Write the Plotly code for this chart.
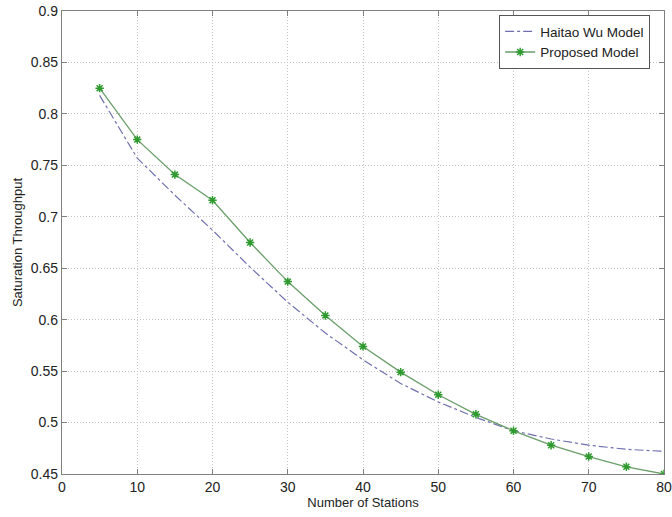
import plotly.graph_objects as go

stations = [5, 10, 15, 20, 25, 30, 35, 40, 45, 50, 55, 60, 65, 70, 75, 80]
haitao = [0.818, 0.757, 0.721, 0.687, 0.651, 0.617, 0.587, 0.561, 0.538, 0.520, 0.505, 0.492, 0.484, 0.478, 0.474, 0.472]
proposed = [0.825, 0.775, 0.741, 0.716, 0.675, 0.637, 0.604, 0.574, 0.549, 0.527, 0.508, 0.492, 0.478, 0.467, 0.457, 0.450]
x_ticks = [0, 10, 20, 30, 40, 50, 60, 70, 80]
y_ticks = [0.45, 0.5, 0.55, 0.6, 0.65, 0.7, 0.75, 0.8, 0.85, 0.9]

font = "Liberation Sans, Arial, sans-serif"

fig = go.Figure()
fig.add_trace(go.Scatter(
    x=stations, y=haitao, mode="lines", name="Haitao Wu Model",
    line=dict(color="#7070b0", width=1.2, dash="dashdot"),
))
fig.add_trace(go.Scatter(
    x=stations, y=proposed, mode="lines+markers", name="Proposed Model",
    line=dict(color="#6a9e6a", width=1.3),
    marker=dict(symbol="asterisk", size=7, color="#2f9a2f",
                line=dict(color="#2f9a2f", width=1.5)),
))

axis_common = dict(
    showline=True, linecolor="#808080", linewidth=1.3, mirror="ticks",
    ticks="inside", ticklen=5, tickcolor="#808080",
    showgrid=True, gridcolor="#c4c4c4", griddash="1px,2px", gridwidth=1,
    zeroline=False,
    tickfont=dict(family=font, size=14, color="#222222"),
)

fig.update_layout(
    width=672, height=517,
    margin=dict(l=62, r=8, t=11, b=43),
    paper_bgcolor="white", plot_bgcolor="white",
    font=dict(family=font, color="#222222"),
    xaxis=dict(range=[0, 80], tickvals=x_ticks, ticktext=[str(v) for v in x_ticks],
               title=dict(text="Number of Stations", font=dict(size=13), standoff=3),
               automargin=False, **axis_common),
    yaxis=dict(range=[0.45, 0.9], tickvals=y_ticks,
               ticktext=[f"{v:g}" for v in y_ticks],
               title=dict(text="Saturation Throughput", font=dict(size=13), standoff=5),
               automargin=False, **axis_common),
    legend=dict(x=0.977, y=0.991, xanchor="right", yanchor="top",
                bgcolor="white", bordercolor="#555555", borderwidth=1,
                font=dict(size=13.5, family=font), tracegroupgap=0,
                itemwidth=30),
    showlegend=True,
)

fig.write_html("out.html", config={"displayModeBar": False},
               post_script="document.body.style.margin='0';document.body.style.padding='0';")
